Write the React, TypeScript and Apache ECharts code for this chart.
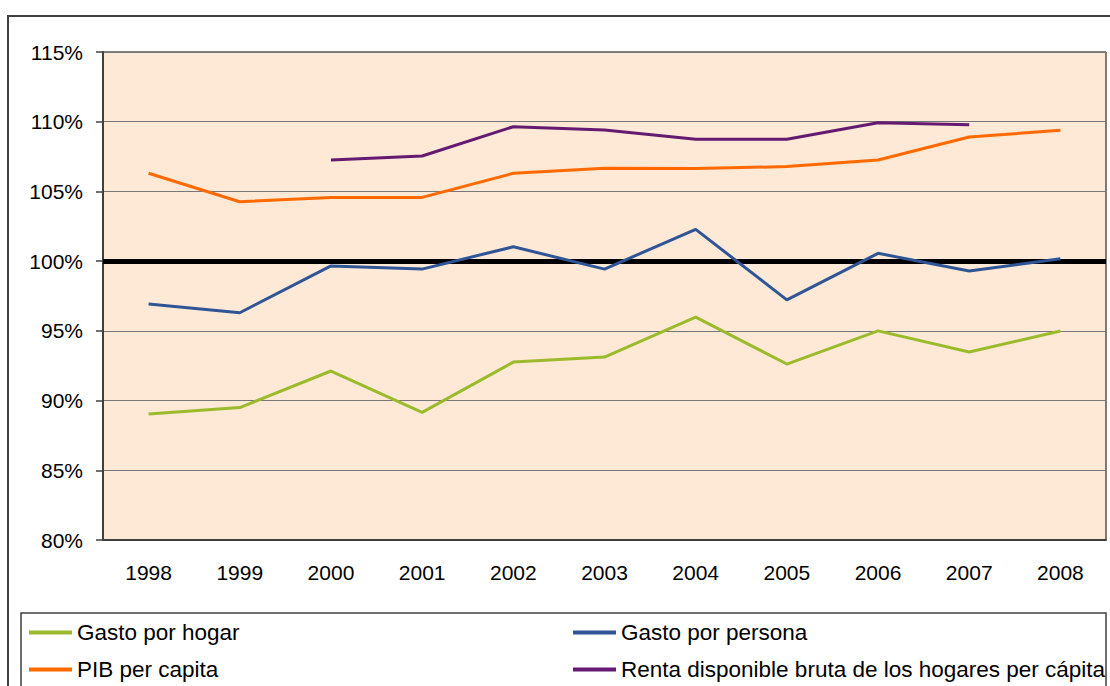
import React, { useEffect, useRef } from "react";
import * as echarts from "echarts";

const years = ["1998", "1999", "2000", "2001", "2002", "2003", "2004", "2005", "2006", "2007", "2008"];
const gastoHogar = [89.03, 89.5, 92.12, 89.15, 92.76, 93.12, 95.99, 92.62, 95.0, 93.48, 94.99];
const gastoPersona = [96.92, 96.3, 99.66, 99.43, 101.03, 99.43, 102.28, 97.22, 100.56, 99.29, 100.17];
const pibPerCapita = [106.3, 104.26, 104.57, 104.57, 106.3, 106.66, 106.64, 106.78, 107.25, 108.9, 109.38];
const rentaDisponible = [null, null, 107.25, 107.54, 109.64, 109.4, 108.74, 108.74, 109.93, 109.79, null];
const referenceLevel = 100;

const FONT = "'Liberation Sans', Arial, sans-serif";

export default function App() {
  const ref = useRef<HTMLDivElement>(null);
  useEffect(() => {
    if (!ref.current) return;
    const chart = echarts.init(ref.current, undefined, { renderer: "svg" });
    const mk = (name: string, data: any[], color: string, extra: any = {}) => ({
      name,
      type: "line",
      data,
      symbol: "none",
      showSymbol: false,
      connectNulls: false,
      lineStyle: { color, width: 3 },
      itemStyle: { color },
      z: 5,
      ...extra,
    });
    const legendCommon = {
      orient: "vertical",
      top: 621,
      padding: 0,
      icon: "rect",
      itemWidth: 43,
      itemHeight: 4,
      itemGap: 14,
      itemTextGap: 5,
      textStyle: { fontSize: 22.5, color: "#000", fontFamily: FONT, lineHeight: 20 },
    };
    chart.setOption({
      animation: false,
      textStyle: { fontFamily: FONT },
      graphic: [
        {
          type: "rect",
          shape: { x: 8, y: 16, width: 1120, height: 700 },
          style: { fill: "none", stroke: "#404040", lineWidth: 2 },
          z: 0,
        },
        {
          type: "rect",
          shape: { x: 21, y: 613, width: 1085, height: 100 },
          style: { fill: "#fff", stroke: "#404040", lineWidth: 1.5 },
          z: 0,
        },
      ],
      grid: {
        left: 103,
        top: 52,
        right: 4,
        bottom: 146,
        show: true,
        backgroundColor: "#FDE9D5",
        borderColor: "#000",
        borderWidth: 1,
      },
      legend: [
        {
          ...legendCommon,
          left: 29,
          data: ["Gasto por hogar", "PIB per capita"],
        },
        {
          ...legendCommon,
          left: 573,
          data: ["Gasto por persona", "Renta disponible bruta de los hogares per cápita"],
        },
      ],
      xAxis: {
        type: "category",
        data: years,
        boundaryGap: true,
        axisLine: { show: true, lineStyle: { color: "#404040", width: 2 } },
        axisTick: { show: false },
        axisLabel: { fontSize: 21, color: "#000", margin: 22, fontFamily: FONT },
        splitLine: { show: false },
      },
      yAxis: {
        type: "value",
        min: 80,
        max: 115,
        interval: 5,
        axisLine: { show: true, lineStyle: { color: "#404040", width: 2 } },
        axisTick: { show: true, length: 7, inside: false, lineStyle: { color: "#404040", width: 1.5 } },
        axisLabel: { fontSize: 21, color: "#000", margin: 20, formatter: "{value}%", fontFamily: FONT },
        splitLine: { show: true, lineStyle: { color: "#777", width: 1.2 } },
      },
      series: [
        mk("Gasto por hogar", gastoHogar, "#9BBB2C"),
        mk("Gasto por persona", gastoPersona, "#2F5597", {
          markLine: {
            silent: true,
            symbol: "none",
            label: { show: false },
            lineStyle: { color: "#000", width: 5, type: "solid" },
            data: [{ yAxis: referenceLevel }],
            z: 4,
          },
        }),
        mk("PIB per capita", pibPerCapita, "#FF6A00"),
        mk("Renta disponible bruta de los hogares per cápita", rentaDisponible, "#651A72"),
      ],
    });
    return () => chart.dispose();
  }, []);
  return (
    <div
      ref={ref}
      style={{ position: "fixed", left: 0, top: 0, width: 1110, height: 686, background: "#fff" }}
    />
  );
}
